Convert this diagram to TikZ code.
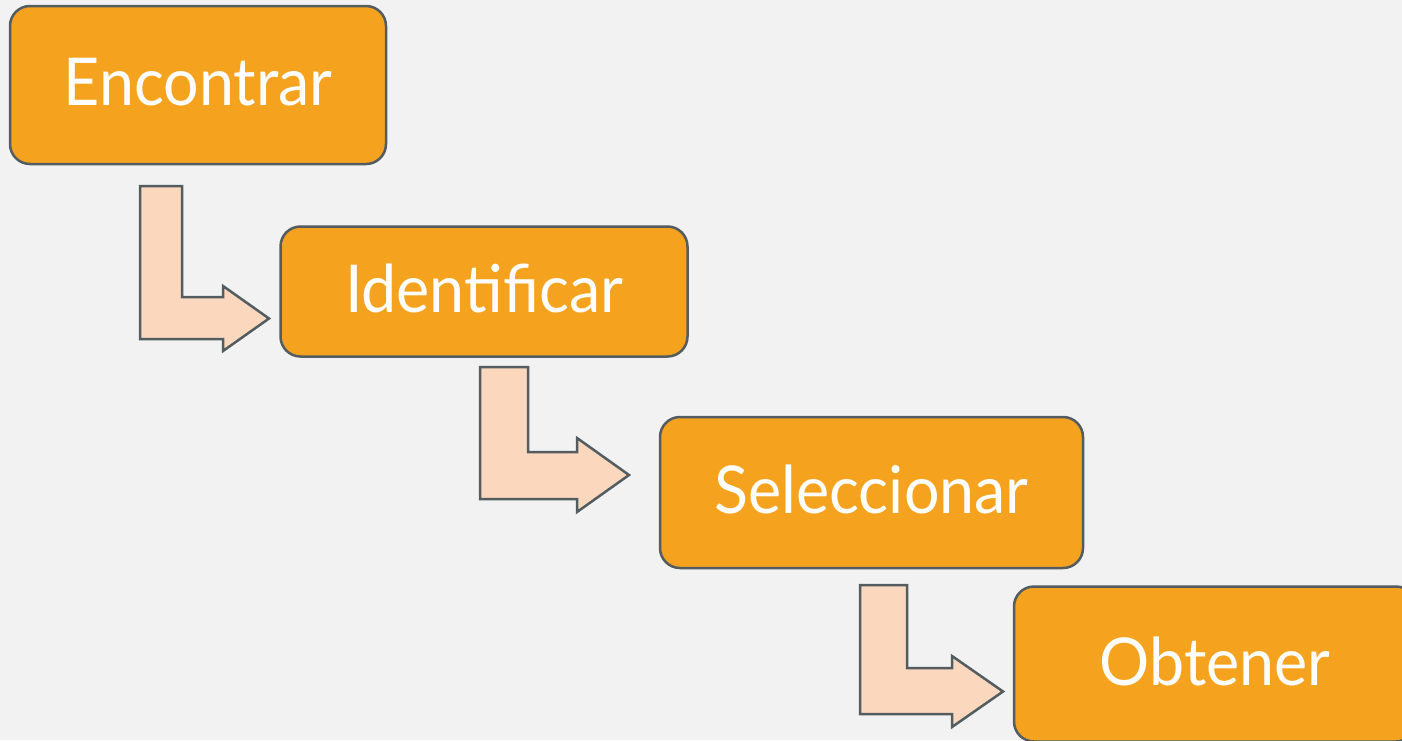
\documentclass[tikz,border=0pt]{standalone}
\usepackage{fontspec}
\setmainfont[FakeStretch=0.95]{Lato}
\usepackage{tikz}
\usetikzlibrary{positioning}
\newcommand{\TikZscale}{0.5}
\newcommand{\px}{*\TikZscale pt}
\definecolor{bgcol}{HTML}{F2F2F2}
\definecolor{boxcol}{HTML}{F5A31F}
\definecolor{edgecol}{HTML}{535C60}
\definecolor{arrowcol}{HTML}{FBD8BD}
\tikzset{every picture/.style={auto, node distance=5\px}}
\tikzstyle{etapa}	= [draw=edgecol, fill=boxcol, line width=2.5\px, rounded corners=20\px,
			   text=white, font=\fontsize{33}{40}\selectfont, inner sep=0pt, text depth=6\px]
\tikzstyle{pfeil}	= [draw=edgecol, fill=arrowcol, line width=2.5\px, line join=miter]

\begin{document}
\begin{tikzpicture}
	% Hintergrund
	\clip (0,0) rectangle (1402\px,-740\px);
	\fill[bgcol] (0,0) rectangle (1402\px,-740\px);

	% Etapas
	\node[etapa, minimum width=376\px, minimum height=158\px] (encontrar)     at (198\px,-85\px)    {Encontrar};
	\node[etapa, minimum width=407\px, minimum height=130\px] (identificar)   at (484\px,-291.5\px) {Identificar};
	\node[etapa, minimum width=423\px, minimum height=151\px] (seleccionar)   at (871.5\px,-492.5\px) {Seleccionar};
	\node[etapa, minimum width=402\px, minimum height=155\px] (obtener)       at (1215\px,-664\px)  {Obtener};

	% Pfeile
	\foreach \xl/\xr/\yt/\ys/\yb/\xh/\yh/\yk/\xs in
		{140/182/186/297/339/223/286/351/269,
		 480/528/367/452/499/577/438/512/629,
		 860/907/585/668/714/952/656/727/1003}
	{
		\filldraw[pfeil] (\xl\px,-\yt\px) -- (\xr\px,-\yt\px) -- (\xr\px,-\ys\px)
			-- (\xh\px,-\ys\px) -- (\xh\px,-\yh\px) -- (\xs\px,{-(\yh+\yk)/2\px})
			-- (\xh\px,-\yk\px) -- (\xh\px,-\yb\px) -- (\xl\px,-\yb\px) -- cycle;
	}
\end{tikzpicture}
\end{document}
